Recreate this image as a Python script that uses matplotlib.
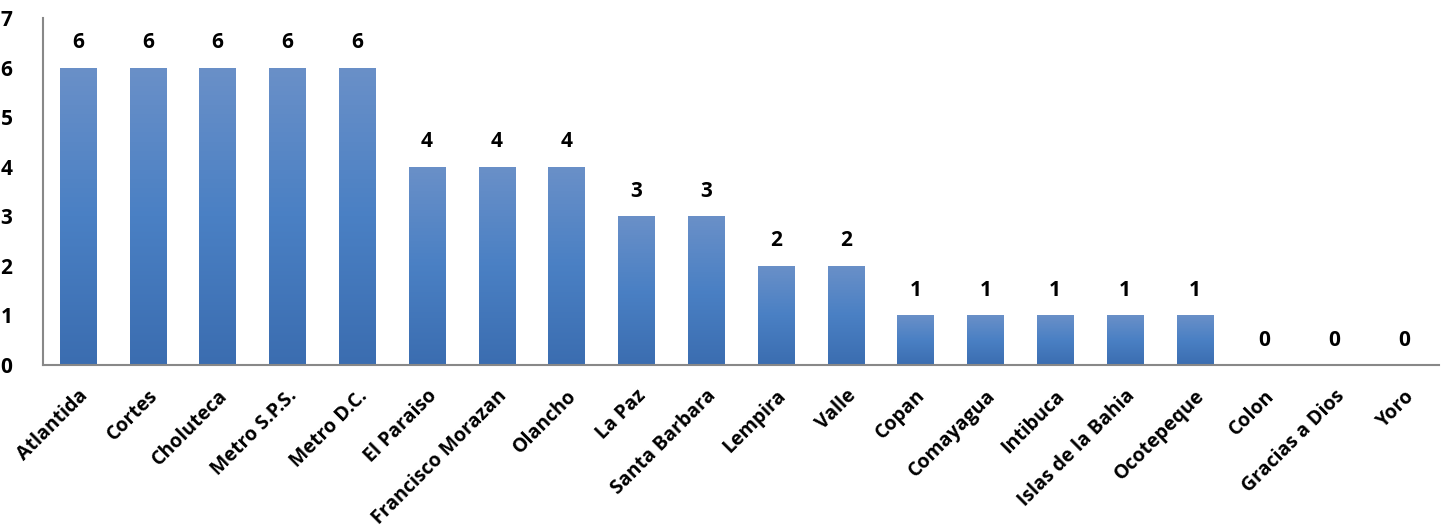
import matplotlib.pyplot as plt
import numpy as np
from matplotlib.colors import LinearSegmentedColormap

departamentos = ['Atlantida', 'Cortes', 'Choluteca', 'Metro S.P.S.', 'Metro D.C.',
                 'El Paraiso', 'Francisco Morazan', 'Olancho', 'La Paz', 'Santa Barbara',
                 'Lempira', 'Valle', 'Copan', 'Comayagua', 'Intibuca',
                 'Islas de la Bahia', 'Ocotepeque', 'Colon', 'Gracias a Dios', 'Yoro']
casos = [6, 6, 6, 6, 6, 4, 4, 4, 3, 3, 2, 2, 1, 1, 1, 1, 1, 0, 0, 0]
y_ticks = [0, 1, 2, 3, 4, 5, 6, 7]

plt.rcParams['font.family'] = ['Open Sans', 'DejaVu Sans']
plt.rcParams['font.weight'] = 'bold'

fig = plt.figure(figsize=(14.49, 5.29), dpi=100)
ax = fig.add_axes([43/1449, 1 - 365/529, (1439 - 43)/1449, (365 - 18)/529])

x = np.arange(len(casos))
bars = ax.bar(x, casos, width=0.52, color='none', edgecolor='none')

# gradient fill: lighter on top, darker at the bottom
cmap = LinearSegmentedColormap.from_list('grad', ['#3b6db0', '#4a80c4', '#6a90c8'])
grad = np.linspace(0, 1, 256).reshape(-1, 1)
for b in bars:
    if b.get_height() <= 0:
        continue
    x0, w, h = b.get_x(), b.get_width(), b.get_height()
    im = ax.imshow(grad, cmap=cmap, origin='lower', aspect='auto',
                   extent=[x0, x0 + w, 0, h], zorder=2)
    im.set_clip_path(b)

for xi, v in zip(x, casos):
    ax.annotate(str(v), (xi, v), xytext=(0, 18), textcoords='offset points',
                ha='center', va='center', fontsize=15, fontweight='bold')

ax.set_xlim(-0.5, len(casos) - 0.5)
ax.set_ylim(0, 7)
ax.set_yticks(y_ticks)
ax.set_yticklabels([str(t) for t in y_ticks], fontsize=15, fontweight='bold')
ax.set_xticks(x)
ax.set_xticklabels(departamentos, rotation=45, ha='right', rotation_mode='anchor',
                   fontsize=14, fontweight='bold')
ax.tick_params(axis='both', length=0)
ax.tick_params(axis='x', pad=15)
ax.tick_params(axis='y', pad=22)

for s in ['top', 'right']:
    ax.spines[s].set_visible(False)
for s in ['left', 'bottom']:
    ax.spines[s].set_color('#888888')
    ax.spines[s].set_linewidth(1.5)

fig.savefig('out.png', dpi=100)
